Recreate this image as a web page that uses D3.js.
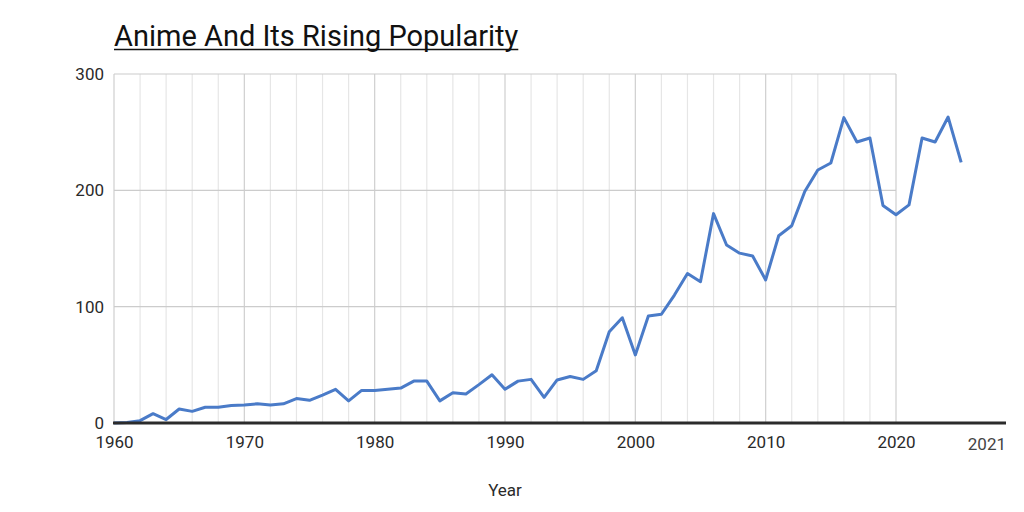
<!DOCTYPE html>
<html>
<head>
<meta charset="utf-8">
<script src="https://cdn.jsdelivr.net/npm/d3@7"></script>
<style>
  body { margin: 0; background: #fff; }
  text { font-family: Roboto, "Liberation Sans", sans-serif; }
</style>
</head>
<body>
<div id="chart"></div>
<script>
// data
var years = [1960,1961,1962,1963,1964,1965,1966,1967,1968,1969,
             1970,1971,1972,1973,1974,1975,1976,1977,1978,1979,
             1980,1981,1982,1983,1984,1985,1986,1987,1988,1989,
             1990,1991,1992,1993,1994,1995,1996,1997,1998,1999,
             2000,2001,2002,2003,2004,2005,2006,2007,2008,2009,
             2010,2011,2012,2013,2014,2015,2016,2017,2018,2019,
             2020,2021,2022,2023,2024,2025];
var popularity = [0,0.5,2,8,3,12,10,13.5,13.5,15,
                  15.5,16.5,15.5,16.5,21,19.5,24,29,19,28,
                  28,29,30,36,36,19,26,25,33,41.5,
                  29,36,37.5,22,37,40,37.5,45,78.5,90.5,
                  58.5,92,93.5,110,128.5,121.5,180,153,146,143.5,
                  123,161,169.5,199,217.5,223.5,262.5,241.5,245,187,
                  179,187.5,245,241.5,263,224];
var yTicks = [0,100,200,300];
var xLabels = [1960,1970,1980,1990,2000,2010,2020];
var gridYears = [1960,1962,1964,1966,1968,1970,1972,1974,1976,1978,
                 1980,1982,1984,1986,1988,1990,1992,1994,1996,1998,
                 2000,2002,2004,2006,2008,2010,2012,2014,2016,2018,2020];
var endLabel = "2021";
var title = "Anime And Its Rising Popularity";
var xTitle = "Year";

var width = 1024, height = 512;
var margin = {top: 74, left: 114, bottom: 89};
var plotRight = 896, axisEnd = 1006;
var labelSize = "17px";

var svg = d3.select("#chart").append("svg")
    .attr("width", width)
    .attr("height", height);

var x = d3.scaleLinear().domain([1960, 2020]).range([margin.left, plotRight]);
var y = d3.scaleLinear().domain([0, 300]).range([height - margin.bottom, margin.top]);

//vertical grid, every 2 years; decades a bit darker
svg.append("g").attr("class", "vgrid")
  .selectAll("line")
  .data(gridYears)
  .enter().append("line")
    .attr("x1", function(d){ return x(d); })
    .attr("x2", function(d){ return x(d); })
    .attr("y1", y(300))
    .attr("y2", y(0))
    .attr("stroke", function(d){ return d % 10 == 0 ? "#cfcfcf" : "#e6e6e6"; })
    .attr("stroke-width", 1.2);

//horizontal grid
svg.append("g").attr("class", "hgrid")
  .selectAll("line")
  .data(yTicks)
  .enter().append("line")
    .attr("x1", x(1960))
    .attr("x2", x(2020))
    .attr("y1", function(d){ return y(d); })
    .attr("y2", function(d){ return y(d); })
    .attr("stroke", "#cccccc")
    .attr("stroke-width", 1.2);

//y axis labels
var yAxis = d3.axisLeft(y).tickValues(yTicks).tickSize(0).tickPadding(10);
var gy = svg.append("g")
    .attr("transform", "translate(" + margin.left + ",0)")
    .call(yAxis);
gy.select(".domain").remove();
gy.selectAll("text")
    .style("font-size", labelSize)
    .attr("fill", "#2a2a2a");

//x axis labels
var xAxis = d3.axisBottom(x).tickValues(xLabels).tickFormat(d3.format("d")).tickSize(0).tickPadding(13);
var gx = svg.append("g")
    .attr("transform", "translate(0," + y(0) + ")")
    .call(xAxis);
gx.select(".domain").remove();
gx.selectAll("text")
    .style("font-size", labelSize)
    .attr("fill", "#2a2a2a");

//the odd extra label at the end of the baseline
svg.append("text")
    .attr("x", axisEnd)
    .attr("y", y(0) + 27)
    .attr("text-anchor", "end")
    .style("font-size", labelSize)
    .attr("fill", "#444")
    .text(endLabel);

//the line
var line = d3.line()
    .curve(d3.curveLinear)
    .x(function(d){ return x(d[0]); })
    .y(function(d){ return y(d[1]); });

svg.append("path")
    .datum(d3.zip(years, popularity))
    .attr("fill", "none")
    .attr("stroke", "#4a7bc8")
    .attr("stroke-width", 3)
    .attr("stroke-linejoin", "round")
    .attr("d", line);

//baseline
svg.append("line")
    .attr("x1", margin.left - 1)
    .attr("x2", axisEnd)
    .attr("y1", y(0))
    .attr("y2", y(0))
    .attr("stroke", "#2b2b2b")
    .attr("stroke-width", 3);

//title, underlined
var t = svg.append("text")
    .attr("x", margin.left)
    .attr("y", 46)
    .style("font-size", "29px")
    .attr("fill", "#111")
    .text(title);
var tw = t.node().getComputedTextLength();
svg.append("line")
    .attr("x1", margin.left)
    .attr("x2", margin.left + tw)
    .attr("y1", 49.5)
    .attr("y2", 49.5)
    .attr("stroke", "#111")
    .attr("stroke-width", 1.5);

svg.append("text")
    .attr("x", (x(1960) + x(2020)) / 2)
    .attr("y", 496)
    .attr("text-anchor", "middle")
    .style("font-size", labelSize)
    .attr("fill", "#2a2a2a")
    .text(xTitle);
</script>
</body>
</html>
